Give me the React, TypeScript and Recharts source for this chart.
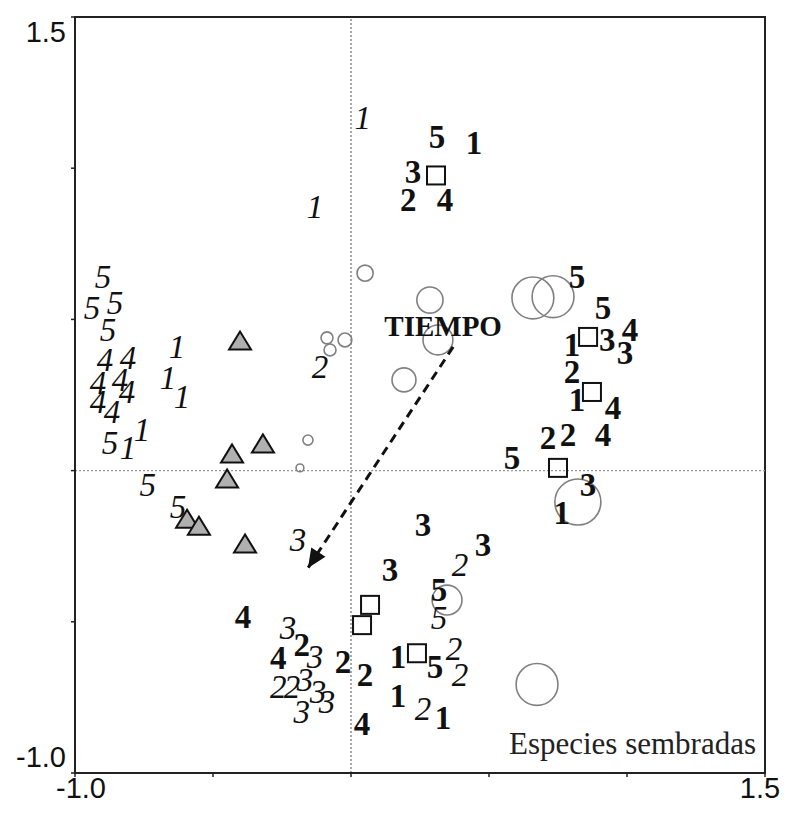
import React from 'react';
import { ScatterChart, Scatter, XAxis, YAxis, ReferenceLine, ReferenceArea } from 'recharts';

// Axis extents and ticks
const X_DOMAIN: [number, number] = [-1, 1.5];
const Y_DOMAIN: [number, number] = [-1, 1.5];
const AXIS_TICKS = [-1, -0.5, 0, 0.5, 1, 1.5];
const LABELLED_TICKS = [-1, 1.5];

// Sites drawn as italic numbers
const italicLabels = ['5', '5', '5', '5', '4', '4', '4', '4', '4', '4', '4', '1', '1', '1', '5', '1', '1', '5', '5', '1', '1', '2', '3', '3', '3', '2', '2', '3', '3', '3', '3', '5', '2', '2', '2', '2'];
const italicX = [-0.899, -0.938, -0.855, -0.88, -0.891, -0.808, -0.917, -0.837, -0.812, -0.917, -0.866, -0.63, -0.663, -0.612, -0.873, -0.808, -0.757, -0.736, -0.627, 0.043, -0.13, -0.112, -0.192, -0.228, -0.13, -0.264, -0.214, -0.167, -0.12, -0.178, -0.087, 0.319, 0.395, 0.373, 0.395, 0.261];
const italicY = [0.64, 0.537, 0.554, 0.465, 0.366, 0.372, 0.289, 0.299, 0.26, 0.227, 0.194, 0.409, 0.306, 0.243, 0.091, 0.075, 0.134, -0.048, -0.121, 1.166, 0.872, 0.343, -0.23, -0.521, -0.617, -0.716, -0.716, -0.693, -0.733, -0.799, -0.766, -0.488, -0.31, -0.59, -0.676, -0.786];

// Sites drawn as bold numbers
const boldLabels = ['5', '1', '3', '2', '4', '5', '5', '1', '3', '4', '3', '2', '1', '4', '2', '2', '4', '5', '3', '1', '3', '3', '3', '5', '4', '2', '4', '2', '2', '1', '5', '1', '4', '1'];
const boldX = [0.312, 0.446, 0.225, 0.207, 0.341, 0.819, 0.913, 0.801, 0.928, 1.011, 0.993, 0.801, 0.819, 0.949, 0.714, 0.786, 0.913, 0.583, 0.859, 0.764, 0.261, 0.478, 0.141, 0.319, -0.391, -0.178, -0.264, -0.029, 0.051, 0.17, 0.304, 0.17, 0.04, 0.333];
const boldY = [1.103, 1.083, 0.989, 0.895, 0.895, 0.64, 0.537, 0.415, 0.432, 0.465, 0.389, 0.326, 0.233, 0.207, 0.108, 0.118, 0.118, 0.042, -0.048, -0.14, -0.18, -0.246, -0.329, -0.395, -0.484, -0.577, -0.62, -0.633, -0.676, -0.617, -0.65, -0.743, -0.836, -0.819];

// Group centroids (squares)
const squareX = [0.308, 0.859, 0.873, 0.75, 0.069, 0.04, 0.239];
const squareY = [0.976, 0.442, 0.26, 0.009, -0.444, -0.511, -0.604];

// Species (grey triangles)
const triangleX = [-0.402, -0.431, -0.319, -0.449, -0.594, -0.551, -0.384];
const triangleY = [0.425, 0.052, 0.085, -0.031, -0.164, -0.187, -0.246];

// Sown species, circle size by relative abundance
const circleX = [0.051, 0.286, 0.315, 0.192, -0.087, -0.076, -0.022, -0.156, -0.185, 0.659, 0.732, 0.822, 0.348, 0.674];
const circleY = [0.653, 0.564, 0.432, 0.3, 0.439, 0.399, 0.432, 0.101, 0.009, 0.571, 0.575, -0.104, -0.428, -0.707];
const circleAbund = [0.35, 0.57, 0.65, 0.52, 0.26, 0.26, 0.3, 0.22, 0.17, 0.91, 0.91, 1.0, 0.65, 0.91];

// Environmental vector
const tiempoX = [0.37, -0.156];
const tiempoY = [0.409, -0.322];
const TIEMPO_LABEL = 'TIEMPO';
const PANEL_LABEL = 'Especies sembradas';

const italicData = italicLabels.map((label, i) => ({ x: italicX[i], y: italicY[i], label }));
const boldData = boldLabels.map((label, i) => ({ x: boldX[i], y: boldY[i], label }));
const squareData = squareX.map((x, i) => ({ x, y: squareY[i] }));
const triangleData = triangleX.map((x, i) => ({ x, y: triangleY[i] }));
const circleData = circleX.map((x, i) => ({ x, y: circleY[i], abund: circleAbund[i] }));
const tiempoData = tiempoX.map((x, i) => ({ x, y: tiempoY[i], end: i === tiempoX.length - 1 }));

const W = 775;
const H = 797;
const MARGIN = { top: 9, right: 18, bottom: 2, left: 0 };
const Y_AXIS_W = 67;
const X_AXIS_H = 30;
const PLOT_W = W - MARGIN.left - MARGIN.right - Y_AXIS_W;
const PLOT_H = H - MARGIN.top - MARGIN.bottom - X_AXIS_H;
const PX_PER_X = PLOT_W / (X_DOMAIN[1] - X_DOMAIN[0]);
const PX_PER_Y = PLOT_H / (Y_DOMAIN[1] - Y_DOMAIN[0]);

const SERIF = '"Liberation Serif", "Times New Roman", Times, serif';
const SANS = '"Liberation Sans", Arial, Helvetica, sans-serif';
const INK = '#111';
const MAX_RADIUS = 23;
const NUM_SIZE = 33;

const ItalicNum = (p: any) => (
  <text x={p.cx} y={p.cy} dy="0.34em" textAnchor="middle" fontFamily={SERIF} fontStyle="italic" fontSize={NUM_SIZE} fill={INK}>
    {p.payload.label}
  </text>
);

const BoldNum = (p: any) => (
  <text x={p.cx} y={p.cy} dy="0.34em" textAnchor="middle" fontFamily={SERIF} fontWeight="bold" fontSize={NUM_SIZE} fill={INK}>
    {p.payload.label}
  </text>
);

const SquareMark = (p: any) => (
  <rect x={p.cx - 9} y={p.cy - 9} width={18} height={18} fill="none" stroke={INK} strokeWidth={2} />
);

const TriangleMark = (p: any) => (
  <polygon
    points={`${p.cx},${p.cy - 10.5} ${p.cx - 11},${p.cy + 7.5} ${p.cx + 11},${p.cy + 7.5}`}
    fill="#b0b0b0"
    stroke={INK}
    strokeWidth={2}
    strokeLinejoin="miter"
  />
);

const CircleMark = (p: any) => (
  <circle cx={p.cx} cy={p.cy} r={p.payload.abund * MAX_RADIUS} fill="none" stroke="#808080" strokeWidth={1.6} />
);

// Start point carries the vector's name; end point carries the arrow head
const TiempoMark = (p: any) => {
  if (!p.payload.end) {
    return (
      <text x={p.cx - 10} y={p.cy - 21} dy="0.35em" textAnchor="middle" fontFamily={SERIF} fontWeight="bold" fontSize={29} fill={INK}>
        {TIEMPO_LABEL}
      </text>
    );
  }
  const dx = (tiempoX[1] - tiempoX[0]) * PX_PER_X;
  const dy = -(tiempoY[1] - tiempoY[0]) * PX_PER_Y;
  const ang = (Math.atan2(dy, dx) * 180) / Math.PI;
  return (
    <g transform={`translate(${p.cx},${p.cy}) rotate(${ang})`}>
      <polygon points="0,0 -19,-8.5 -19,8.5" fill={INK} />
    </g>
  );
};

const XTick = (p: any) => {
  const v = p.payload.value;
  if (!LABELLED_TICKS.includes(v)) return <g />;
  const shift = v === X_DOMAIN[0] ? 6 : -5;
  return (
    <text x={p.x + shift} y={p.y + 9} dy="0.36em" textAnchor="middle" fontFamily={SANS} fontSize={29} fill={INK}>
      {v.toFixed(1)}
    </text>
  );
};

const YTick = (p: any) => {
  const v = p.payload.value;
  if (!LABELLED_TICKS.includes(v)) return <g />;
  const shift = v === Y_DOMAIN[1] ? 15 : -16;
  return (
    <text x={p.x - 3} y={p.y + shift} dy="0.36em" textAnchor="end" fontFamily={SANS} fontSize={29} fill={INK}>
      {v.toFixed(1)}
    </text>
  );
};

const PanelLabel = (p: any) => {
  const vb = p.viewBox;
  return (
    <text x={vb.x + vb.width - 9} y={vb.y + vb.height - 19} textAnchor="end" fontFamily={SERIF} fontSize={31} fill="#222">
      {PANEL_LABEL}
    </text>
  );
};

export default function App() {
  return (
    <ScatterChart width={W} height={H} margin={MARGIN} style={{ background: '#fff' }}>
      <XAxis
        type="number"
        dataKey="x"
        domain={X_DOMAIN}
        ticks={AXIS_TICKS}
        allowDataOverflow
        height={X_AXIS_H}
        axisLine={{ stroke: '#222', strokeWidth: 2 }}
        tickLine={{ stroke: '#222', strokeWidth: 1.5 }}
        tickSize={4}
        tick={<XTick />}
        interval={0}
      />
      <YAxis
        type="number"
        dataKey="y"
        domain={Y_DOMAIN}
        ticks={AXIS_TICKS}
        allowDataOverflow
        width={Y_AXIS_W}
        axisLine={{ stroke: '#222', strokeWidth: 2 }}
        tickLine={{ stroke: '#222', strokeWidth: 1.5 }}
        tickSize={4}
        tick={<YTick />}
        interval={0}
      />
      <ReferenceArea
        x1={X_DOMAIN[0]}
        x2={X_DOMAIN[1]}
        y1={Y_DOMAIN[0]}
        y2={Y_DOMAIN[1]}
        fill="none"
        fillOpacity={0}
        stroke="#222"
        strokeWidth={2}
        label={<PanelLabel />}
      />
      <ReferenceLine x={0} stroke="#555" strokeWidth={1} strokeDasharray="2 2" />
      <ReferenceLine y={0} stroke="#999" strokeWidth={1.2} strokeDasharray="2 2" />
      <Scatter data={circleData} shape={<CircleMark />} isAnimationActive={false} />
      <Scatter data={squareData} shape={<SquareMark />} isAnimationActive={false} />
      <Scatter data={triangleData} shape={<TriangleMark />} isAnimationActive={false} />
      <Scatter data={italicData} shape={<ItalicNum />} isAnimationActive={false} />
      <Scatter data={boldData} shape={<BoldNum />} isAnimationActive={false} />
      <Scatter
        data={tiempoData}
        shape={<TiempoMark />}
        line={{ stroke: INK, strokeWidth: 3, strokeDasharray: '9 6' }}
        isAnimationActive={false}
      />
    </ScatterChart>
  );
}
